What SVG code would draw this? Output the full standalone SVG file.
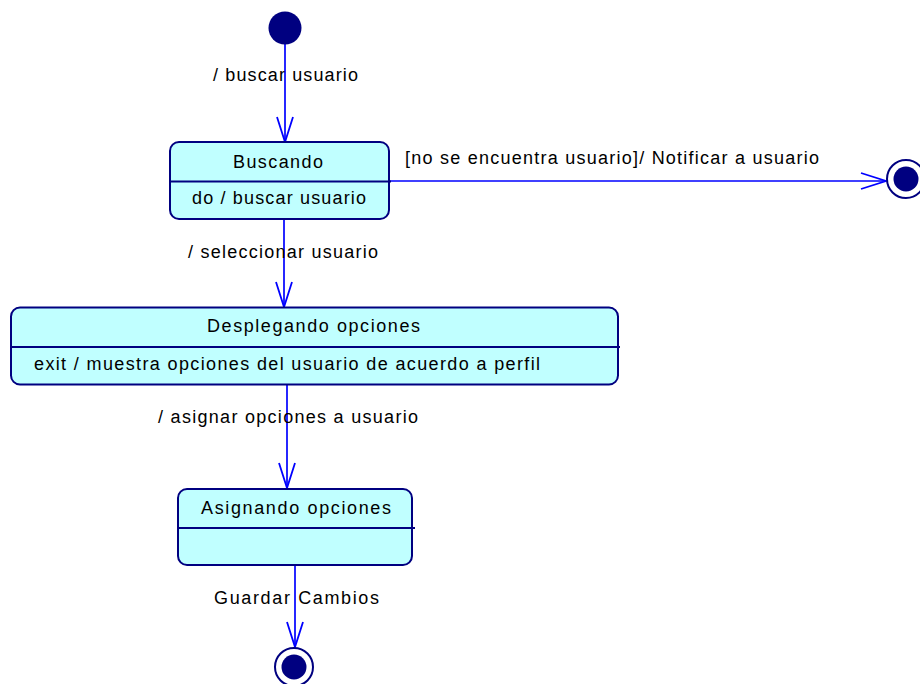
<svg xmlns="http://www.w3.org/2000/svg" width="920" height="684" viewBox="0 0 920 684">
  <style>
    .state { fill: #C0FFFF; stroke: #000080; stroke-width: 2; }
    .divider { stroke: #000080; stroke-width: 2; fill: none; }
    .txt { font-family: "Liberation Sans", Arial, sans-serif; font-size: 18px; fill: #000000; }
    .edge { stroke: #0000FF; stroke-width: 1.7; fill: none; }
    .dot { fill: #000080; }
    .ring { fill: #FFFFFF; stroke: #000080; stroke-width: 2; }
  </style>
  <defs>
    <marker id="open-arrow" markerUnits="userSpaceOnUse" markerWidth="30" markerHeight="20" viewBox="-26 -10 28 20" refX="0" refY="0" orient="auto" overflow="visible">
      <path d="M -25 -8 L 0 0 L -25 8" fill="none" stroke="#0000FF" stroke-width="1.8"/>
    </marker>
  </defs>

  <!-- transitions -->
  <g id="connectors">
    <line class="edge" x1="285" y1="44" x2="285" y2="142" marker-end="url(#open-arrow)"/>
    <line class="edge" x1="389" y1="181" x2="886" y2="181" marker-end="url(#open-arrow)"/>
    <line class="edge" x1="284" y1="219" x2="284" y2="307" marker-end="url(#open-arrow)"/>
    <line class="edge" x1="287" y1="385" x2="287" y2="488" marker-end="url(#open-arrow)"/>
    <line class="edge" x1="295" y1="565" x2="295" y2="647" marker-end="url(#open-arrow)"/>
    <text class="txt" x="213" y="81" textLength="145" lengthAdjust="spacing">/ buscar usuario</text>
    <text class="txt" x="405" y="164" textLength="414" lengthAdjust="spacing">[no se encuentra usuario]/ Notificar a usuario</text>
    <text class="txt" x="188" y="258" textLength="190" lengthAdjust="spacing">/ seleccionar usuario</text>
    <text class="txt" x="158" y="423" textLength="260" lengthAdjust="spacing">/ asignar opciones a usuario</text>
    <text class="txt" x="214" y="604" textLength="165" lengthAdjust="spacing">Guardar Cambios</text>
  </g>

  <!-- initial pseudo-state -->
  <g id="initial">
    <circle class="dot" cx="285" cy="28" r="16.5"/>
  </g>

  <g id="buscando">
    <rect class="state" x="170" y="142" width="219" height="77" rx="9" ry="9"/>
    <line class="divider" x1="170" y1="181.5" x2="391" y2="181.5"/>
    <text class="txt" x="233" y="168" textLength="90" lengthAdjust="spacing">Buscando</text>
    <text class="txt" x="192" y="204" textLength="174" lengthAdjust="spacing">do / buscar usuario</text>
  </g>

  <g id="desplegando">
    <rect class="state" x="11" y="307.5" width="607" height="77" rx="9" ry="9"/>
    <line class="divider" x1="11" y1="347" x2="620" y2="347"/>
    <text class="txt" x="207" y="332" textLength="213" lengthAdjust="spacing">Desplegando opciones</text>
    <text class="txt" x="34" y="370" textLength="506" lengthAdjust="spacing">exit / muestra opciones del usuario de acuerdo a perfil</text>
  </g>

  <g id="asignando">
    <rect class="state" x="178" y="489" width="234" height="76" rx="9" ry="9"/>
    <line class="divider" x1="178" y1="528" x2="415" y2="528"/>
    <text class="txt" x="201" y="514" textLength="190" lengthAdjust="spacing">Asignando opciones</text>
  </g>

  <!-- final states -->
  <g id="final-right">
    <circle class="ring" cx="906" cy="179" r="19"/>
    <circle class="dot" cx="906" cy="179" r="12.5"/>
  </g>
  <g id="final-bottom">
    <circle class="ring" cx="294" cy="667" r="19"/>
    <circle class="dot" cx="294" cy="667" r="12.5"/>
  </g>
</svg>
